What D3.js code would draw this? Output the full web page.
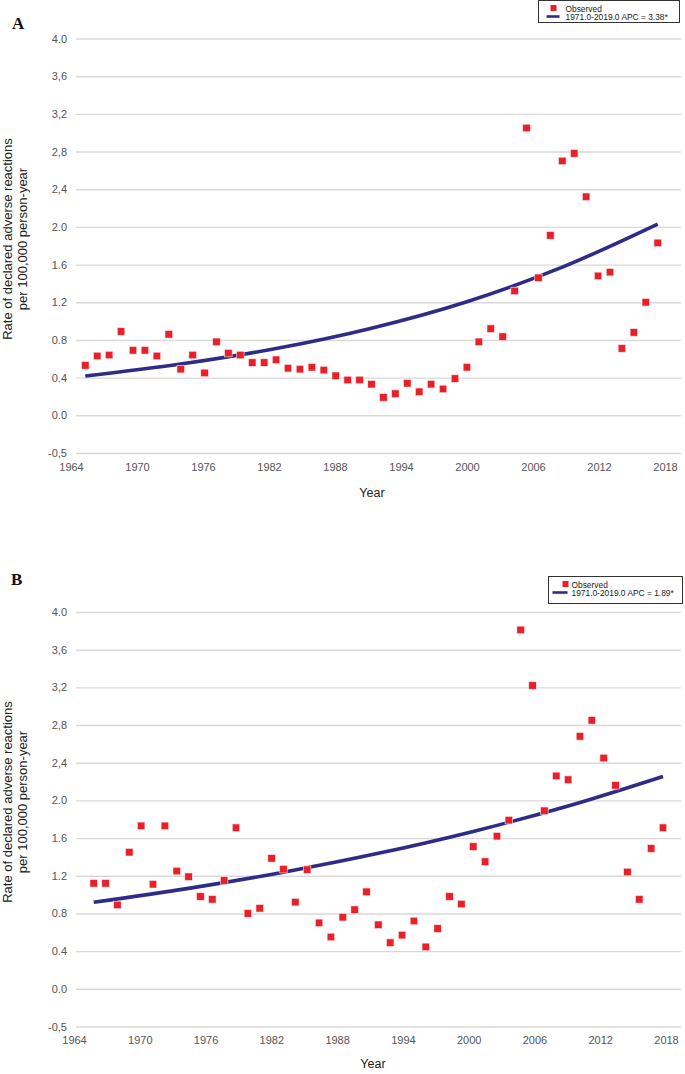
<!DOCTYPE html>
<html>
<head>
<meta charset="utf-8">
<script src="https://cdn.jsdelivr.net/npm/d3@7"></script>
<style>
  html, body { margin: 0; padding: 0; background: #fff; }
  svg { display: block; font-family: "Liberation Sans", Arial, sans-serif; }
</style>
</head>
<body>
<svg id="chart" width="685" height="1074"></svg>
<script>
// ---------- data ----------
const years = [1971,1972,1973,1974,1975,1976,1977,1978,1979,1980,
  1981,1982,1983,1984,1985,1986,1987,1988,1989,1990,
  1991,1992,1993,1994,1995,1996,1997,1998,1999,2000,
  2001,2002,2003,2004,2005,2006,2007,2008,2009,2010,
  2011,2012,2013,2014,2015,2016,2017,2018,2019];

const observedA = [0.53,0.63,0.64,0.89,0.69,0.69,0.63,0.86,0.49,0.64,
  0.45,0.78,0.66,0.64,0.56,0.56,0.59,0.50,0.49,0.51,
  0.48,0.42,0.375,0.375,0.33,0.19,0.23,0.34,0.25,0.33,
  0.28,0.39,0.51,0.78,0.92,0.835,1.32,3.05,1.46,1.91,
  2.70,2.78,2.32,1.48,1.52,0.71,0.88,1.20,1.83];

const observedB = [1.12,1.12,0.89,1.45,1.73,1.11,1.73,1.25,1.19,0.98,
  0.95,1.15,1.71,0.80,0.855,1.385,1.27,0.92,1.265,0.70,
  0.55,0.76,0.84,1.03,0.68,0.49,0.57,0.72,0.445,0.64,
  0.98,0.90,1.51,1.35,1.62,1.79,3.81,3.22,1.89,2.26,
  2.22,2.68,2.85,2.45,2.16,1.24,0.95,1.49,1.71];

// trend (joinpoint model)
const trendYears = [1971,1979,1987,1995,2003,2011,2019];
const trendA = [0.417,0.544,0.709,0.925,1.206,1.573,2.03];
const trendB = [0.918,1.066,1.238,1.438,1.671,1.941,2.255];

const legendA = ["Observed", "1971.0-2019.0 APC = 3.38*"];
const legendB = ["Observed", "1971.0-2019.0 APC = 1.89*"];

const yTickValues = [-0.4,0,0.4,0.8,1.2,1.6,2.0,2.4,2.8,3.2,3.6,4.0];
const yTickLabels = ["-0,5","0.0","0.4","0.8","1.2","1.6","2.0","2,4","2,8","3,2","3,6","4.0"];
const xTickLabels = [1964,1970,1976,1982,1988,1994,2000,2006,2012,2018];

const yTitle1 = "Rate of declared adverse reactions";
const yTitle2 = "per 100,000 person-year";
const xTitle = "Year";

// ---------- drawing ----------
const svg = d3.select("#chart");
const RED = "#e8202a";
const BLUE = "#2e2c86";

function panel(opt) {
  const g = svg.append("g");
  const y = d3.scaleLinear().domain([-0.4, 4.0]).range([opt.yBottom, opt.yTop]);
  const xData = d3.scaleLinear().domain([years[0], years[years.length-1]]).range(opt.dataRange);
  const xAxisScale = d3.scaleLinear().domain([1964, 2018]).range(opt.axisRange);
  const gridLeft = 76, gridRight = 681;

  // y axis with gridlines
  const yAxis = d3.axisLeft(y)
    .tickValues(yTickValues)
    .tickFormat((d, i) => yTickLabels[i])
    .tickSizeInner(-(gridRight - gridLeft))
    .tickSizeOuter(0)
    .tickPadding(9);
  const ya = g.append("g").attr("transform", `translate(${gridLeft},0)`).call(yAxis);
  ya.select(".domain").remove();
  ya.selectAll(".tick line").attr("stroke", "#d9d9d9").attr("stroke-width", 1.4);
  ya.selectAll(".tick text").attr("fill", "#555").attr("font-size", 11)
    .attr("font-family", "Liberation Sans, Arial, sans-serif");

  // x axis labels
  const xAxis = d3.axisBottom(xAxisScale)
    .tickValues(xTickLabels)
    .tickFormat(d3.format("d"))
    .tickSize(0)
    .tickPadding(opt.xPad);
  const xa = g.append("g").attr("transform", `translate(0,${opt.yBottom})`).call(xAxis);
  xa.select(".domain").remove();
  xa.selectAll(".tick text").attr("fill", "#555").attr("font-size", 11)
    .attr("font-family", "Liberation Sans, Arial, sans-serif");

  // x title
  g.append("text").attr("x", opt.xTitleX).attr("y", opt.xTitleY)
    .attr("text-anchor", "middle").attr("font-size", 12.5).attr("fill", "#222")
    .text(xTitle);

  // y title (two lines)
  const yt = g.append("text")
    .attr("transform", `translate(0,${opt.yTitleY}) rotate(-90)`)
    .attr("text-anchor", "middle").attr("font-size", 13).attr("fill", "#222");
  yt.append("tspan").attr("x", 0).attr("y", 11.5).text(yTitle1);
  yt.append("tspan").attr("x", 0).attr("y", 27).text(yTitle2);

  // panel letter
  g.append("text").attr("x", opt.letterX).attr("y", opt.letterY)
    .attr("font-family", "Liberation Serif, Times New Roman, serif")
    .attr("font-weight", "bold").attr("font-size", 17).attr("fill", "#111")
    .text(opt.letter);

  // trend line
  const line = d3.line()
    .x((d, i) => xData(trendYears[i]))
    .y(d => y(d))
    .curve(d3.curveMonotoneX);
  g.append("path").datum(opt.trend)
    .attr("d", line)
    .attr("fill", "none").attr("stroke", BLUE).attr("stroke-width", 3.6)
    .attr("stroke-linecap", "butt");

  // observed squares
  const s = 7.5;
  g.append("g").selectAll("rect").data(opt.obs).join("rect")
    .attr("x", (d, i) => xData(years[i]) - s/2)
    .attr("y", d => y(d) - s/2)
    .attr("width", s).attr("height", s)
    .attr("fill", RED)
    .attr("stroke", "#fbe3e3").attr("stroke-width", 0.6);

  // legend
  const L = opt.legend;
  const lg = g.append("g");
  lg.append("rect").attr("x", L.x).attr("y", L.y).attr("width", L.w).attr("height", L.h)
    .attr("fill", "#fff").attr("stroke", "#333").attr("stroke-width", 1);
  lg.append("rect").attr("x", L.x + L.sq).attr("y", L.y + 4.5).attr("width", 6).attr("height", 6)
    .attr("fill", RED);
  lg.append("text").attr("x", L.x + L.tx).attr("y", L.y + 11).attr("font-size", 8.4)
    .attr("fill", "#222").text(opt.legendText[0]);
  lg.append("line").attr("x1", L.x + L.lx1).attr("x2", L.x + L.lx2)
    .attr("y1", L.y + 16).attr("y2", L.y + 16)
    .attr("stroke", BLUE).attr("stroke-width", 2.6);
  lg.append("text").attr("x", L.x + L.tx).attr("y", L.y + 19.5).attr("font-size", 8.4)
    .attr("fill", "#222").text(opt.legendText[1]);
}

panel({
  letter: "A", letterX: 12, letterY: 29,
  yTop: 38.5, yBottom: 453,
  dataRange: [85.3, 657.7],
  axisRange: [71, 665],
  xPad: 10,
  xTitleX: 372, xTitleY: 497,
  yTitleY: 239,
  obs: observedA, trend: trendA,
  legend: { x: 538.5, y: 0.5, w: 141, h: 22, sq: 12, tx: 27, lx1: 8, lx2: 21 },
  legendText: legendA
});

panel({
  letter: "B", letterX: 11, letterY: 585,
  yTop: 612, yBottom: 1026.5,
  dataRange: [93.7, 663],
  axisRange: [74, 666],
  xPad: 9.5,
  xTitleX: 373, xTitleY: 1068,
  yTitleY: 802,
  obs: observedB, trend: trendB,
  legend: { x: 548.5, y: 576.5, w: 134, h: 27, sq: 14, tx: 23, lx1: 4, lx2: 19 },
  legendText: legendB
});
</script>
</body>
</html>
